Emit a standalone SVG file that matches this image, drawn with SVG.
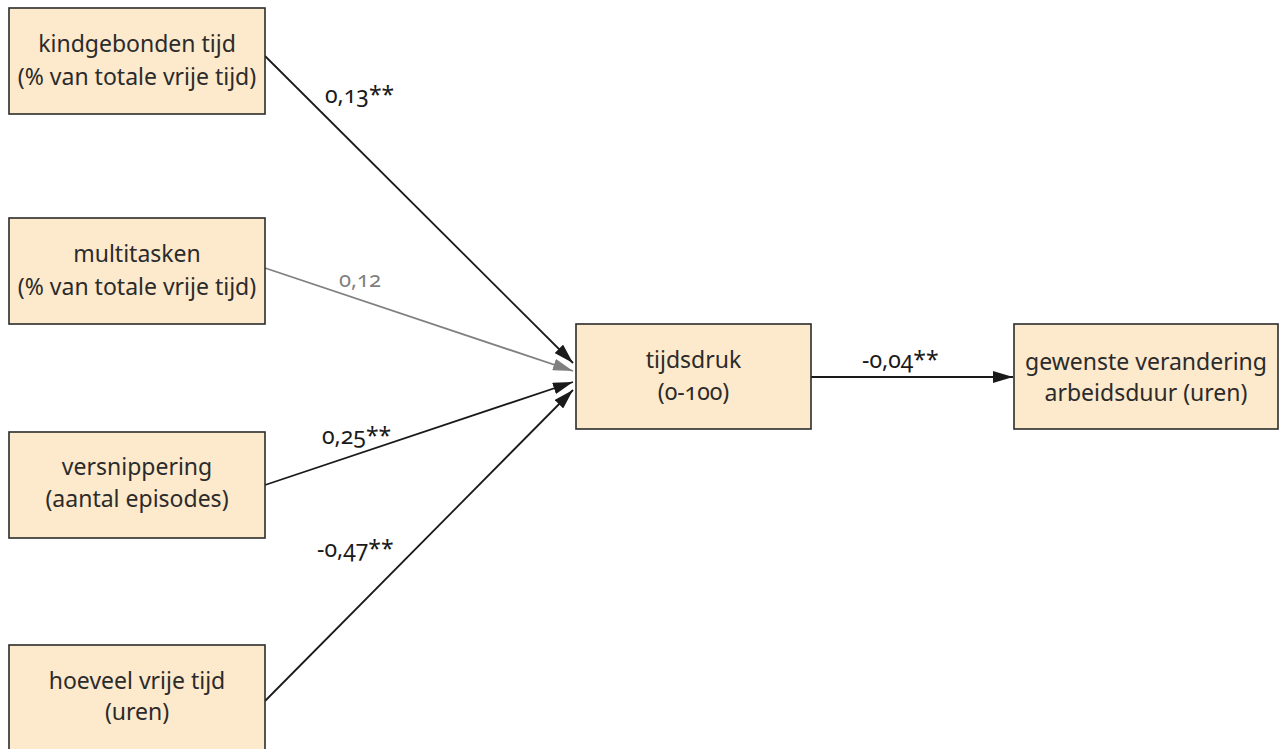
<svg xmlns="http://www.w3.org/2000/svg" width="1279" height="749" viewBox="0 0 1279 749">
<style>
.box{fill:#fde9cb;stroke:#2b2b2b;stroke-width:1.6}
.t{font-family:"Noto Sans","Open Sans","Liberation Sans",sans-serif;font-size:23px;fill:#2b2b2b;text-anchor:middle;font-variant-numeric:oldstyle-nums}
.lbl{font-family:"Noto Sans","Open Sans","Liberation Sans",sans-serif;font-size:23px;fill:#1a1a1a;font-variant-numeric:oldstyle-nums}
.gl{fill:#7f7f7f;font-size:22px}
.c{fill:none;stroke:#1a1a1a;stroke-width:1.8}
.cg{fill:none;stroke:#808080;stroke-width:1.8}
</style>
<defs>
<marker id="ah" markerUnits="userSpaceOnUse" markerWidth="20" markerHeight="12" refX="20" refY="6" orient="auto"><path d="M0,0 L20,6 L0,12 z" fill="#1a1a1a"/></marker>
<marker id="ahg" markerUnits="userSpaceOnUse" markerWidth="20" markerHeight="12" refX="20" refY="6" orient="auto"><path d="M0,0 L20,6 L0,12 z" fill="#808080"/></marker>
</defs>
<rect width="1279" height="749" fill="#ffffff"/>
<g id="connectors">
<line class="c" x1="265" y1="56" x2="573" y2="363" marker-end="url(#ah)"/>
<line class="cg" x1="265" y1="268" x2="573" y2="371" marker-end="url(#ahg)"/>
<line class="c" x1="265" y1="485" x2="573" y2="382" marker-end="url(#ah)"/>
<line class="c" x1="265" y1="701" x2="573" y2="390" marker-end="url(#ah)"/>
<line class="c" x1="811" y1="377" x2="1013" y2="377" marker-end="url(#ah)"/>
<text class="lbl" x="325" y="103">0,13**</text>
<text class="lbl gl" x="339" y="287">0,12</text>
<text class="lbl" x="322" y="444">0,25**</text>
<text class="lbl" x="317" y="557">-0,47**</text>
<text class="lbl" x="862" y="368">-0,04**</text>
</g>
<g id="n1"><rect class="box" x="9" y="8" width="256" height="106"/>
<text class="t" x="137" y="52">kindgebonden tijd</text><text class="t" x="137" y="85">(% van totale vrije tijd)</text></g>
<g id="n2"><rect class="box" x="9" y="218" width="256" height="106"/>
<text class="t" x="137" y="262">multitasken</text><text class="t" x="137" y="295">(% van totale vrije tijd)</text></g>
<g id="n3"><rect class="box" x="9" y="432" width="256" height="106"/>
<text class="t" x="137" y="475">versnippering</text><text class="t" x="137" y="507">(aantal episodes)</text></g>
<g id="n4"><rect class="box" x="9" y="645" width="256" height="110"/>
<text class="t" x="137" y="689">hoeveel vrije tijd</text><text class="t" x="137" y="720">(uren)</text></g>
<g id="n5"><rect class="box" x="576" y="324" width="235" height="105"/>
<text class="t" x="693.5" y="368">tijdsdruk</text><text class="t" x="693.5" y="400">(0-100)</text></g>
<g id="n6"><rect class="box" x="1014" y="324" width="264" height="105"/>
<text class="t" x="1146" y="370">gewenste verandering</text><text class="t" x="1146" y="401">arbeidsduur (uren)</text></g>
</svg>
